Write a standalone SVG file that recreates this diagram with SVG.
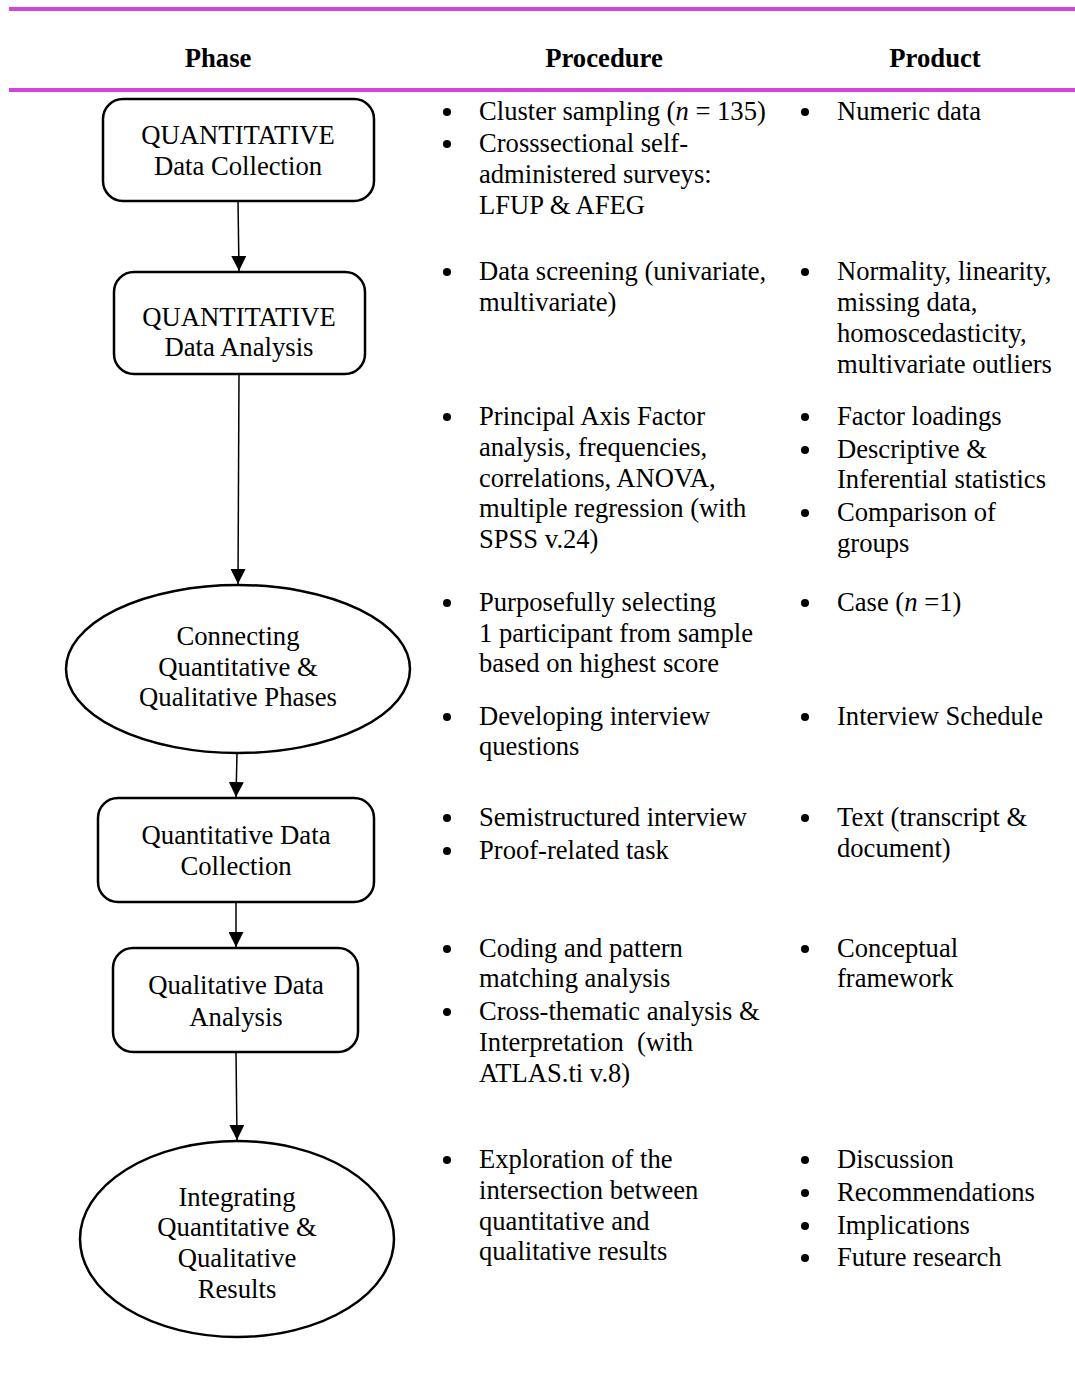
<svg xmlns="http://www.w3.org/2000/svg" width="1075" height="1390" viewBox="0 0 1075 1390">
  <style>
    text { font-family: "Liberation Serif", "Times New Roman", serif; fill: #000; }
    .hd { font-size: 26.7px; font-weight: bold; text-anchor: middle; }
    .nd { font-size: 26.7px; text-anchor: middle; }
    .tx { font-size: 26.6px; }
    .shape { fill: #fff; stroke: #000; stroke-width: 2.5; }
    .rule { stroke: #d244dc; stroke-width: 4; }
    .conn { stroke: #000; stroke-width: 1.5; fill: none; marker-end: url(#arrow); }
    .dot { fill: #000; }
  </style>
  <defs>
    <marker id="arrow" viewBox="0 0 10 10" refX="10" refY="5" markerWidth="15" markerHeight="15" markerUnits="userSpaceOnUse" orient="auto">
      <path d="M0,0 L10,5 L0,10 Z" fill="#000"/>
    </marker>
  </defs>
  <rect width="1075" height="1390" fill="#fff"/>

  <!-- table header -->
  <g id="header">
    <line class="rule" x1="9" y1="9" x2="1075" y2="9"/>
    <line class="rule" x1="9" y1="90" x2="1075" y2="90"/>
    <text class="hd" x="218" y="67">Phase</text>
    <text class="hd" x="604" y="67">Procedure</text>
    <text class="hd" x="935" y="67">Product</text>
  </g>

  <!-- connectors -->
  <g id="connectors">
    <line class="conn" x1="238" y1="201" x2="239" y2="271"/>
    <line class="conn" x1="239" y1="374" x2="238" y2="584"/>
    <line class="conn" x1="237" y1="753" x2="236" y2="797"/>
    <line class="conn" x1="236" y1="902" x2="236" y2="947"/>
    <line class="conn" x1="236" y1="1052" x2="237" y2="1140"/>
  </g>

  <!-- phase nodes -->
  <g id="quant-collection">
    <rect class="shape" x="103" y="99" width="271" height="102" rx="20"/>
    <text class="nd" x="238" y="144">QUANTITATIVE</text>
    <text class="nd" x="238" y="175">Data Collection</text>
  </g>
  <g id="quant-analysis">
    <rect class="shape" x="114" y="272" width="251" height="102" rx="20"/>
    <text class="nd" x="239" y="326">QUANTITATIVE</text>
    <text class="nd" x="239" y="356">Data Analysis</text>
  </g>
  <g id="connecting-phases">
    <ellipse class="shape" cx="238" cy="669" rx="172" ry="84"/>
    <text class="nd" x="238" y="645">Connecting</text>
    <text class="nd" x="238" y="676">Quantitative &amp;</text>
    <text class="nd" x="238" y="706">Qualitative Phases</text>
  </g>
  <g id="qual-collection">
    <rect class="shape" x="98" y="798" width="276" height="104" rx="20"/>
    <text class="nd" x="236" y="844">Quantitative Data</text>
    <text class="nd" x="236" y="875">Collection</text>
  </g>
  <g id="qual-analysis">
    <rect class="shape" x="113" y="948" width="245" height="104" rx="20"/>
    <text class="nd" x="236" y="994">Qualitative Data</text>
    <text class="nd" x="236" y="1026">Analysis</text>
  </g>
  <g id="integrating-results">
    <ellipse class="shape" cx="237" cy="1239" rx="157" ry="98"/>
    <text class="nd" x="237" y="1206">Integrating</text>
    <text class="nd" x="237" y="1236">Quantitative &amp;</text>
    <text class="nd" x="237" y="1267">Qualitative</text>
    <text class="nd" x="237" y="1298">Results</text>
  </g>

  <!-- procedure column -->
  <g id="procedure">
    <circle class="dot" cx="447" cy="112" r="4"/>
    <text class="tx" x="479" y="120">Cluster sampling (<tspan font-style="italic">n</tspan> = 135)</text>
    <circle class="dot" cx="447" cy="144" r="4"/>
    <text class="tx" x="479" y="152">Crosssectional self-</text>
    <text class="tx" x="479" y="183">administered surveys:</text>
    <text class="tx" x="479" y="214">LFUP &amp; AFEG</text>

    <circle class="dot" cx="447" cy="272" r="4"/>
    <text class="tx" x="479" y="280">Data screening (univariate,</text>
    <text class="tx" x="479" y="311">multivariate)</text>

    <circle class="dot" cx="447" cy="417" r="4"/>
    <text class="tx" x="479" y="425">Principal Axis Factor</text>
    <text class="tx" x="479" y="456">analysis, frequencies,</text>
    <text class="tx" x="479" y="487">correlations, ANOVA,</text>
    <text class="tx" x="479" y="517">multiple regression (with</text>
    <text class="tx" x="479" y="548">SPSS v.24)</text>

    <circle class="dot" cx="447" cy="603" r="4"/>
    <text class="tx" x="479" y="611">Purposefully selecting</text>
    <text class="tx" x="479" y="642">1 participant from sample</text>
    <text class="tx" x="479" y="672">based on highest score</text>

    <circle class="dot" cx="447" cy="717" r="4"/>
    <text class="tx" x="479" y="725">Developing interview</text>
    <text class="tx" x="479" y="755">questions</text>

    <circle class="dot" cx="447" cy="818" r="4"/>
    <text class="tx" x="479" y="826">Semistructured interview</text>
    <circle class="dot" cx="447" cy="851" r="4"/>
    <text class="tx" x="479" y="859">Proof-related task</text>

    <circle class="dot" cx="447" cy="949" r="4"/>
    <text class="tx" x="479" y="957">Coding and pattern</text>
    <text class="tx" x="479" y="987">matching analysis</text>
    <circle class="dot" cx="447" cy="1012" r="4"/>
    <text class="tx" x="479" y="1020">Cross-thematic analysis &amp;</text>
    <text class="tx" x="479" y="1051" xml:space="preserve">Interpretation  (with</text>
    <text class="tx" x="479" y="1082">ATLAS.ti v.8)</text>

    <circle class="dot" cx="447" cy="1160" r="4"/>
    <text class="tx" x="479" y="1168">Exploration of the</text>
    <text class="tx" x="479" y="1199">intersection between</text>
    <text class="tx" x="479" y="1230">quantitative and</text>
    <text class="tx" x="479" y="1260">qualitative results</text>
  </g>

  <!-- product column -->
  <g id="product">
    <circle class="dot" cx="805" cy="112" r="4"/>
    <text class="tx" x="837" y="120">Numeric data</text>

    <circle class="dot" cx="805" cy="272" r="4"/>
    <text class="tx" x="837" y="280">Normality, linearity,</text>
    <text class="tx" x="837" y="311">missing data,</text>
    <text class="tx" x="837" y="342">homoscedasticity,</text>
    <text class="tx" x="837" y="373">multivariate outliers</text>

    <circle class="dot" cx="805" cy="417" r="4"/>
    <text class="tx" x="837" y="425">Factor loadings</text>
    <circle class="dot" cx="805" cy="450" r="4"/>
    <text class="tx" x="837" y="458">Descriptive &amp;</text>
    <text class="tx" x="837" y="488">Inferential statistics</text>
    <circle class="dot" cx="805" cy="513" r="4"/>
    <text class="tx" x="837" y="521">Comparison of</text>
    <text class="tx" x="837" y="552">groups</text>

    <circle class="dot" cx="805" cy="603" r="4"/>
    <text class="tx" x="837" y="611">Case (<tspan font-style="italic">n</tspan> =1)</text>

    <circle class="dot" cx="805" cy="717" r="4"/>
    <text class="tx" x="837" y="725">Interview Schedule</text>

    <circle class="dot" cx="805" cy="818" r="4"/>
    <text class="tx" x="837" y="826">Text (transcript &amp;</text>
    <text class="tx" x="837" y="857">document)</text>

    <circle class="dot" cx="805" cy="949" r="4"/>
    <text class="tx" x="837" y="957">Conceptual</text>
    <text class="tx" x="837" y="987">framework</text>

    <circle class="dot" cx="805" cy="1160" r="4"/>
    <text class="tx" x="837" y="1168">Discussion</text>
    <circle class="dot" cx="805" cy="1193" r="4"/>
    <text class="tx" x="837" y="1201">Recommendations</text>
    <circle class="dot" cx="805" cy="1226" r="4"/>
    <text class="tx" x="837" y="1234">Implications</text>
    <circle class="dot" cx="805" cy="1258" r="4"/>
    <text class="tx" x="837" y="1266">Future research</text>
  </g>
</svg>
